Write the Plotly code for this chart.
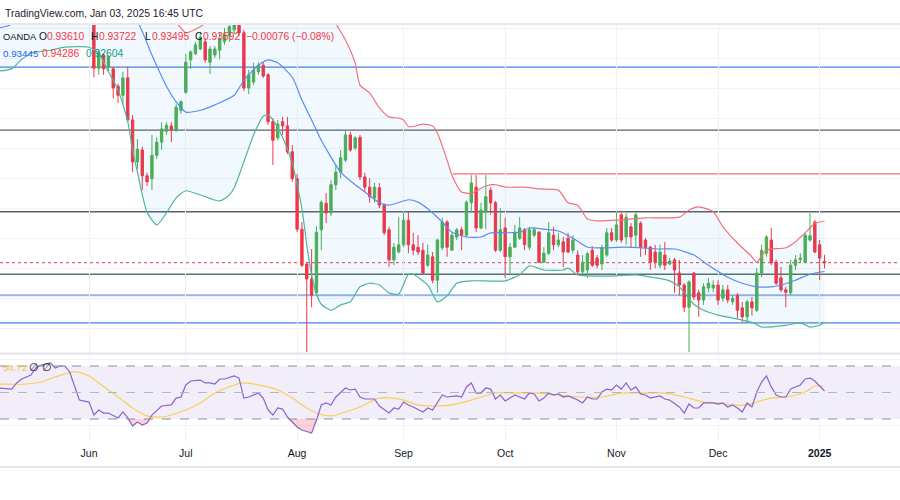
import plotly.graph_objects as go

# ---------------- data (bar index 0 = 3 Jun 2024, 152 = 3 Jan 2025) ----------------
bar = list(range(0, 153))
open_ = [
    0.9792, 0.9767, 0.9683, 0.9705, 0.9685, 0.9682, 0.9653, 0.9638, 0.9667, 0.9597,
    0.9527, 0.9547, 0.9504, 0.9499, 0.9538, 0.9560, 0.9578, 0.9587, 0.9580, 0.9613,
    0.9643, 0.9697, 0.9707, 0.9715, 0.9727, 0.9693, 0.9705, 0.9713, 0.9727, 0.9737,
    0.9747, 0.9760, 0.9742, 0.9650, 0.9660, 0.9677, 0.9688, 0.9672, 0.9594, 0.9567,
    0.9594, 0.9587, 0.9544, 0.9499, 0.9415, 0.9357, 0.9332, 0.9309, 0.9414, 0.9458,
    0.9442, 0.9489, 0.9510, 0.9530, 0.9572, 0.9550, 0.9568, 0.9502, 0.9485, 0.9467,
    0.9484, 0.9455, 0.9414, 0.9364, 0.9377, 0.9389, 0.9430, 0.9389, 0.9385, 0.9380,
    0.9355, 0.9369, 0.9330, 0.9384, 0.9427, 0.9380, 0.9402, 0.9414, 0.9405, 0.9459,
    0.9485, 0.9417, 0.9444, 0.9480, 0.9459, 0.9380, 0.9417, 0.9369, 0.9385, 0.9400,
    0.9414, 0.9385, 0.9405, 0.9410, 0.9360, 0.9375, 0.9405, 0.9389, 0.9394, 0.9400,
    0.9380, 0.9372, 0.9344, 0.9347, 0.9380, 0.9367, 0.9357, 0.9372, 0.9409, 0.9397,
    0.9439, 0.9402, 0.9419, 0.9405, 0.9425, 0.9397, 0.9385, 0.9377, 0.9355, 0.9372,
    0.9357, 0.9364, 0.9342, 0.9322, 0.9285, 0.9342, 0.9309, 0.9297, 0.9317, 0.9317,
    0.9322, 0.9300, 0.9314, 0.9294, 0.9305, 0.9284, 0.9269, 0.9294, 0.9280, 0.9342,
    0.9375, 0.9397, 0.9360, 0.9334, 0.9314, 0.9309, 0.9355, 0.9364, 0.9360, 0.9397,
    0.9427, 0.9389, 0.93610]
high = [
    0.9801, 0.9772, 0.9713, 0.9708, 0.9705, 0.9685, 0.9657, 0.9677, 0.9685, 0.9605,
    0.9565, 0.9552, 0.9509, 0.9572, 0.9568, 0.9593, 0.9593, 0.9593, 0.9623, 0.9630,
    0.9707, 0.9713, 0.9727, 0.9743, 0.9733, 0.9720, 0.9720, 0.9743, 0.9750, 0.9760,
    0.9767, 0.9773, 0.9747, 0.9680, 0.9692, 0.9693, 0.9693, 0.9675, 0.9600, 0.9597,
    0.9602, 0.9602, 0.9555, 0.9507, 0.9427, 0.9360, 0.9382, 0.9420, 0.9463, 0.9475,
    0.9497, 0.9522, 0.9547, 0.9580, 0.9577, 0.9570, 0.9572, 0.9509, 0.9500, 0.9492,
    0.9492, 0.9458, 0.9419, 0.9392, 0.9435, 0.9444, 0.9444, 0.9409, 0.9405, 0.9392,
    0.9389, 0.9377, 0.9399, 0.9434, 0.9430, 0.9409, 0.9417, 0.9419, 0.9463, 0.9505,
    0.9505, 0.9459, 0.9505, 0.9485, 0.9462, 0.9450, 0.9434, 0.9392, 0.9422, 0.9435,
    0.9417, 0.9419, 0.9419, 0.9412, 0.9385, 0.9427, 0.9419, 0.9409, 0.9402, 0.9409,
    0.9405, 0.9380, 0.9372, 0.9377, 0.9387, 0.9372, 0.9389, 0.9417, 0.9417, 0.9444,
    0.9442, 0.9442, 0.9425, 0.9444, 0.9428, 0.9400, 0.9387, 0.9389, 0.9389, 0.9394,
    0.9367, 0.9367, 0.9364, 0.9325, 0.9330, 0.9344, 0.9314, 0.9325, 0.9334, 0.9330,
    0.9330, 0.9322, 0.9322, 0.9305, 0.9309, 0.9294, 0.9297, 0.9302, 0.9350, 0.9389,
    0.9405, 0.9417, 0.9364, 0.9352, 0.9319, 0.9364, 0.9372, 0.9375, 0.9409, 0.9442,
    0.9430, 0.9397, 0.93722]
low = [
    0.9763, 0.9668, 0.9672, 0.9672, 0.9677, 0.9633, 0.9625, 0.9623, 0.9594, 0.9510,
    0.9515, 0.9480, 0.9487, 0.9480, 0.9532, 0.9547, 0.9572, 0.9560, 0.9577, 0.9607,
    0.9640, 0.9682, 0.9705, 0.9713, 0.9692, 0.9673, 0.9700, 0.9698, 0.9722, 0.9727,
    0.9740, 0.9737, 0.9645, 0.9640, 0.9655, 0.9672, 0.9667, 0.9589, 0.9522, 0.9563,
    0.9572, 0.9540, 0.9494, 0.9410, 0.9352, 0.9208, 0.9285, 0.9307, 0.9380, 0.9425,
    0.9437, 0.9480, 0.9500, 0.9527, 0.9544, 0.9547, 0.9497, 0.9477, 0.9459, 0.9459,
    0.9450, 0.9405, 0.9352, 0.9355, 0.9375, 0.9385, 0.9375, 0.9372, 0.9372, 0.9339,
    0.9352, 0.9325, 0.9309, 0.9380, 0.9369, 0.9379, 0.9397, 0.9380, 0.9402, 0.9442,
    0.9410, 0.9415, 0.9415, 0.9439, 0.9377, 0.9377, 0.9334, 0.9342, 0.9384, 0.9397,
    0.9380, 0.9380, 0.9402, 0.9359, 0.9359, 0.9372, 0.9380, 0.9385, 0.9352, 0.9375,
    0.9375, 0.9339, 0.9339, 0.9334, 0.9352, 0.9350, 0.9347, 0.9369, 0.9394, 0.9394,
    0.9392, 0.9389, 0.9384, 0.9384, 0.9369, 0.9372, 0.9347, 0.9350, 0.9350, 0.9347,
    0.9355, 0.9309, 0.9305, 0.9277, 0.9208, 0.9297, 0.9269, 0.9289, 0.9310, 0.9310,
    0.9289, 0.9294, 0.9292, 0.9289, 0.9267, 0.9260, 0.9259, 0.9271, 0.9277, 0.9335,
    0.9369, 0.9355, 0.9322, 0.9310, 0.9285, 0.9305, 0.9347, 0.9360, 0.9359, 0.9394,
    0.9375, 0.9330, 0.93495]
close = [
    0.9767, 0.9683, 0.9708, 0.9682, 0.9702, 0.9650, 0.9638, 0.9667, 0.9597, 0.9527,
    0.9548, 0.9504, 0.9494, 0.9538, 0.9560, 0.9582, 0.9588, 0.9580, 0.9618, 0.9627,
    0.9693, 0.9710, 0.9722, 0.9735, 0.9697, 0.9715, 0.9715, 0.9732, 0.9740, 0.9752,
    0.9757, 0.9742, 0.9650, 0.9672, 0.9680, 0.9688, 0.9670, 0.9594, 0.9563, 0.9590,
    0.9587, 0.9544, 0.9499, 0.9415, 0.9355, 0.9332, 0.9305, 0.9410, 0.9460, 0.9442,
    0.9489, 0.9510, 0.9534, 0.9572, 0.9547, 0.9567, 0.9502, 0.9485, 0.9469, 0.9485,
    0.9455, 0.9409, 0.9364, 0.9385, 0.9389, 0.9430, 0.9389, 0.9380, 0.9377, 0.9342,
    0.9372, 0.9330, 0.9397, 0.9427, 0.9385, 0.9405, 0.9414, 0.9405, 0.9460, 0.9492,
    0.9417, 0.9447, 0.9469, 0.9459, 0.9380, 0.9414, 0.9369, 0.9385, 0.9410, 0.9417,
    0.9389, 0.9414, 0.9414, 0.9360, 0.9375, 0.9409, 0.9389, 0.9397, 0.9377, 0.9377,
    0.9397, 0.9344, 0.9360, 0.9374, 0.9355, 0.9355, 0.9384, 0.9409, 0.9397, 0.9422,
    0.9397, 0.9435, 0.9402, 0.9439, 0.9385, 0.9384, 0.9360, 0.9360, 0.9377, 0.9355,
    0.9362, 0.9347, 0.9322, 0.9285, 0.9327, 0.9302, 0.9297, 0.9319, 0.9325, 0.9322,
    0.9297, 0.9314, 0.9297, 0.9300, 0.9280, 0.9269, 0.9294, 0.9284, 0.9342, 0.9380,
    0.9402, 0.9359, 0.9325, 0.9314, 0.9310, 0.9355, 0.9364, 0.9367, 0.9405, 0.9404,
    0.9377, 0.93668, 0.93592]

# Bollinger bands
basis_idx = [-19, -17, -15, -12, -5, 2, 7, 10, 13, 16, 18, 20, 23, 26, 30, 32, 35, 37, 39, 42,
             44, 46, 48, 50, 52, 55, 57, 60, 62, 66, 68, 70, 73, 75, 78, 81, 83, 86, 89, 91,
             94, 97, 100, 103, 106, 111, 118, 121, 125, 128, 132, 135, 138, 141, 143, 146, 149, 152]
basis = [0.9750, 0.9753, 0.9760, 0.9772, 0.9788, 0.9788, 0.9777, 0.9760, 0.9705, 0.9653,
         0.9627, 0.9610, 0.9613, 0.9622, 0.9638, 0.9663, 0.9688, 0.9697, 0.9692, 0.9668,
         0.9630, 0.9597, 0.9563, 0.9535, 0.9510, 0.9489, 0.9477, 0.9459, 0.9455, 0.9464,
         0.9460, 0.9449, 0.9427, 0.9410, 0.9402, 0.9402, 0.9409, 0.9409, 0.9410, 0.9417,
         0.9415, 0.9412, 0.9400, 0.9385, 0.9384, 0.9385, 0.9382, 0.9382, 0.9372, 0.9355,
         0.9335, 0.9325, 0.9319, 0.9319, 0.9322, 0.9330, 0.9340, 0.93445]
upper_idx = [-19, 0, 10, 15, 18, 19, 20, 22, 24, 26, 30, 35, 40, 45, 49, 51, 53, 55, 56, 58,
             60, 62, 64, 65, 66, 67, 69, 71, 72, 74, 75, 77, 79, 82, 84, 86, 90, 93, 97, 99,
             101, 103, 105, 109, 115, 122, 124, 126, 129, 131, 134, 137, 138, 140, 144, 146,
             149, 150, 152]
upper = [0.9897, 0.9897, 0.9863, 0.9797, 0.9760, 0.9750, 0.9742, 0.9748, 0.9758, 0.9780,
         0.9797, 0.9813, 0.9813, 0.9822, 0.9797, 0.9758, 0.9730, 0.9692, 0.9655, 0.9642,
         0.9617, 0.9602, 0.9600, 0.9597, 0.9586, 0.9586, 0.9590, 0.9587, 0.9575, 0.9530,
         0.9505, 0.9477, 0.9475, 0.9487, 0.9489, 0.9485, 0.9485, 0.9482, 0.9480, 0.9459,
         0.9455, 0.9432, 0.9429, 0.9430, 0.9434, 0.9435, 0.9447, 0.9452, 0.9444, 0.9419,
         0.9392, 0.9369, 0.9360, 0.9380, 0.9384, 0.9394, 0.9417, 0.9425, 0.94286]
lower_idx = [-19, -16, -14, -12, -8, -5, 0, 2, 4, 6, 8, 9, 10, 12, 14, 16, 18, 20, 23, 27,
             29, 30, 32, 34, 36, 37, 38, 40, 42, 44, 45, 46, 47, 48, 50, 52, 54, 56, 58, 60,
             62, 64, 66, 67, 70, 72, 74, 76, 79, 86, 89, 91, 94, 98, 99, 101, 108, 113, 117,
             120, 122, 125, 127, 130, 133, 137, 139, 144, 147, 149, 151, 152]
lower = [0.9678, 0.9682, 0.9697, 0.9708, 0.9713, 0.9718, 0.9718, 0.9708, 0.9677, 0.9647,
         0.9594, 0.9547, 0.9510, 0.9443, 0.9422, 0.9442, 0.9467, 0.9479, 0.9472, 0.9462,
         0.9472, 0.9484, 0.9527, 0.9572, 0.9603, 0.9605, 0.9597, 0.9568, 0.9525, 0.9449,
         0.9389, 0.9339, 0.9307, 0.9290, 0.9280, 0.9289, 0.9294, 0.9319, 0.9325, 0.9322,
         0.9309, 0.9307, 0.9340, 0.9340, 0.9322, 0.9294, 0.9304, 0.9325, 0.9329, 0.9329,
         0.9339, 0.9354, 0.9347, 0.9347, 0.9350, 0.9339, 0.9337, 0.9339, 0.9334, 0.9329,
         0.9319, 0.9290, 0.9280, 0.9272, 0.9267, 0.9260, 0.9252, 0.9255, 0.9259, 0.9252,
         0.9255, 0.92604]

# RSI (14) and its moving average
rsi_idx = [-19, -16, -15, -14, -12, -11, -10, -8, -7, -6, -5, -4, -2, 0, 1, 2, 3, 4, 6, 7,
           8, 9, 10, 11, 12, 13, 15, 17, 18, 19, 20, 21, 23, 24, 25, 26, 27, 28, 30, 31,
           32, 33, 35, 36, 37, 38, 39, 40, 41, 43, 44, 46, 47, 48, 49, 50, 51, 53, 54, 55,
           56, 57, 59, 60, 62, 63, 64, 65, 66, 67, 69, 70, 71, 73, 74, 76, 77, 78, 79, 80,
           81, 82, 83, 84, 85, 86, 87, 88, 90, 91, 92, 93, 94, 95, 96, 97, 98, 99, 101, 102,
           103, 104, 105, 106, 107, 108, 109, 110, 111, 112, 113, 114, 115, 116, 118, 119,
           120, 122, 123, 124, 125, 126, 127, 128, 129, 130, 131, 132, 133, 134, 135, 136,
           137, 138, 139, 140, 141, 142, 143, 144, 145, 146, 147, 148, 149, 150, 151, 152]
rsi = [53.4, 52.6, 57.0, 60.0, 63.2, 68.5, 70.5, 72.3, 68.5, 70.0, 70.0, 65.5, 44.3, 42.8, 33.0,
       36.8, 34.5, 34.5, 30.8, 35.3, 30.8, 24.7, 27.7, 25.5, 27.0, 33.0, 39.8, 40.6, 45.8, 46.6,
       55.7, 58.7, 59.4, 57.2, 57.2, 56.4, 60.2, 60.2, 62.5, 60.9, 45.8, 46.6, 49.6, 45.8, 36.8,
       33.0, 38.3, 37.5, 31.5, 24.0, 21.7, 19.4, 29.2, 40.6, 42.1, 40.6, 46.6, 53.4, 51.9, 52.6,
       46.6, 45.1, 45.1, 39.8, 34.5, 38.3, 37.5, 42.8, 40.6, 39.1, 35.3, 38.3, 36.8, 48.1, 46.6,
       47.4, 46.6, 54.2, 57.2, 49.6, 49.6, 53.4, 52.6, 45.1, 48.1, 43.6, 45.8, 48.1, 45.1, 49.6,
       48.9, 43.6, 45.8, 49.6, 48.1, 48.9, 46.6, 47.4, 44.3, 42.1, 46.6, 45.1, 45.1, 50.4, 52.6,
       51.9, 55.7, 52.6, 57.2, 51.9, 54.2, 48.9, 48.1, 45.8, 47.4, 45.1, 44.3, 39.1, 34.5, 41.3,
       38.3, 38.3, 42.1, 42.1, 42.1, 41.3, 42.1, 39.1, 40.6, 38.3, 35.3, 42.1, 39.1, 50.4, 57.9,
       62.5, 54.2, 48.1, 46.6, 46.6, 52.6, 54.2, 55.7, 60.2, 60.9, 58.7, 54.9, 51.1]
ma_idx = [-19, -13, -10, -7, -3, 0, 2, 6, 9, 12, 15, 17, 20, 23, 26, 30, 32, 35, 39, 42,
          45, 47, 50, 53, 56, 60, 63, 65, 68, 71, 75, 79, 84, 88, 93, 97, 101, 106, 110, 114,
          119, 123, 127, 130, 133, 136, 138, 141, 144, 148, 150, 152]
rsi_ma = [56.4, 56.4, 57.9, 61.7, 65.5, 62.5, 57.2, 46.6, 38.3, 32.3, 31.5, 33.0, 36.8, 42.1, 49.6,
          55.7, 57.2, 55.7, 51.9, 45.8, 38.3, 34.5, 32.3, 35.3, 39.1, 45.8, 45.8, 44.3, 40.6, 39.8,
          40.6, 44.3, 49.6, 49.6, 49.6, 48.1, 46.6, 46.6, 49.6, 49.6, 49.6, 46.6, 42.8, 42.1, 40.6,
          40.6, 42.8, 45.8, 46.6, 50.4, 54.9, 54.7]

# horizontal levels drawn on the chart
levels = [0.9685, 0.9580, 0.9444, 0.9340, 0.9305, 0.9259]
level_colors = ["#4a80e3", "#5d606b", "#5d606b", "#587368", "#93b3f3", "#4a80e3"]
level_widths = [1.2, 1.3, 1.3, 1.6, 2.2, 1.2]
ray_price = 0.9507
ray_start = 75.2

month_idx = [0, 20, 43, 65, 86, 109, 130, 151]
month_lbl = ["Jun", "Jul", "Aug", "Sep", "Oct", "Nov", "Dec", "<b>2025</b>"]
grid_prices = [0.925, 0.930, 0.935, 0.940, 0.945, 0.950, 0.955, 0.960, 0.965, 0.970, 0.975]

# ---------------- styling ----------------
GREEN = "#4caf50"
RED = "#f23645"
GRID = "#f1f2f6"
FONT = "Liberation Sans, Arial, sans-serif"
XR = [-18.4, 167.6]

fig = go.Figure()

# Bollinger bands
fig.add_trace(go.Scatter(x=lower_idx, y=lower, mode="lines", line=dict(color="#4fb59e", width=1.2, shape="spline", smoothing=0.6),
                         xaxis="x", yaxis="y", hoverinfo="skip"))
fig.add_trace(go.Scatter(x=upper_idx, y=upper, mode="lines", line=dict(color="#f2707b", width=1.2, shape="spline", smoothing=0.6),
                         fill="tonexty", fillcolor="rgba(33,150,243,0.06)", xaxis="x", yaxis="y", hoverinfo="skip"))
fig.add_trace(go.Scatter(x=basis_idx, y=basis, mode="lines", line=dict(color="#5a8cef", width=1.2, shape="spline", smoothing=0.6),
                         xaxis="x", yaxis="y", hoverinfo="skip"))

# candles
fig.add_trace(go.Candlestick(x=bar, open=open_, high=high, low=low, close=close,
                             increasing=dict(line=dict(color=GREEN, width=1), fillcolor=GREEN),
                             decreasing=dict(line=dict(color=RED, width=1), fillcolor=RED),
                             whiskerwidth=0, xaxis="x", yaxis="y", hoverinfo="skip"))

# RSI oversold / overbought fills
rsi_os = [min(v, 30) for v in rsi]
rsi_ob = [max(v, 70) for v in rsi]
fig.add_trace(go.Scatter(x=rsi_idx, y=[30] * len(rsi_idx), mode="lines", line=dict(width=0), xaxis="x2", yaxis="y2", hoverinfo="skip"))
fig.add_trace(go.Scatter(x=rsi_idx, y=rsi_os, mode="lines", line=dict(width=0), fill="tonexty",
                         fillcolor="rgba(242,54,69,0.22)", xaxis="x2", yaxis="y2", hoverinfo="skip"))
fig.add_trace(go.Scatter(x=rsi_idx, y=[70] * len(rsi_idx), mode="lines", line=dict(width=0), xaxis="x2", yaxis="y2", hoverinfo="skip"))
fig.add_trace(go.Scatter(x=rsi_idx, y=rsi_ob, mode="lines", line=dict(width=0), fill="tonexty",
                         fillcolor="rgba(76,175,80,0.18)", xaxis="x2", yaxis="y2", hoverinfo="skip"))
fig.add_trace(go.Scatter(x=ma_idx, y=rsi_ma, mode="lines", line=dict(color="#f7cf52", width=1.2, shape="spline", smoothing=0.8),
                         xaxis="x2", yaxis="y2", hoverinfo="skip"))
fig.add_trace(go.Scatter(x=rsi_idx, y=rsi, mode="lines", line=dict(color="#8a63cf", width=1.2),
                         xaxis="x2", yaxis="y2", hoverinfo="skip"))

shapes = []
for p, c, w in zip(levels, level_colors, level_widths):
    shapes.append(dict(type="line", xref="paper", x0=0, x1=1, yref="y", y0=p, y1=p,
                       line=dict(color=c, width=w), layer="below"))
shapes.append(dict(type="line", xref="x", x0=ray_start, x1=XR[1] + 2, yref="y", y0=ray_price, y1=ray_price,
                   line=dict(color="#f5697a", width=1.2), layer="below"))
shapes.append(dict(type="line", xref="paper", x0=0, x1=1, yref="y", y0=close[-1], y1=close[-1],
                   line=dict(color=RED, width=1, dash="dot"), layer="below"))
# RSI band
shapes.append(dict(type="rect", xref="paper", x0=0, x1=1, yref="y2", y0=30, y1=70,
                   fillcolor="rgba(126,87,194,0.10)", line=dict(width=0), layer="below"))
for lv, col in [(70, "#8a8d96"), (50, "#b4b6bd"), (30, "#8a8d96")]:
    shapes.append(dict(type="line", xref="paper", x0=0, x1=1, yref="y2", y0=lv, y1=lv,
                       line=dict(color=col, width=1, dash="dash"), layer="above"))
# pane separators
for yp, col, w in [(1 - 24 / 500, "#e6e8ee", 2), (1 - 353.5 / 500, "#e0e3eb", 2), (1 - 467 / 500, "#e6e8ee", 2)]:
    shapes.append(dict(type="line", xref="paper", x0=0, x1=1, yref="paper", y0=yp, y1=yp,
                       line=dict(color=col, width=w)))

ann = []
def txt(t, px, py, color, size=10.3, anchor="left"):
    ann.append(dict(text=t, x=px / 900, y=1 - py / 500, xref="paper", yref="paper",
                    xanchor=anchor, yanchor="middle", showarrow=False,
                    font=dict(family=FONT, size=size, color=color)))

txt("TradingView.com, Jan 03, 2025 16:45 UTC", 3, 13, "#1e222d", 10.4)
DARK = "#131722"
txt("OANDA", 1, 37, DARK, 9.4)
txt("O", 37, 37, DARK)
txt("0.93610", 45, 37, RED)
txt("H", 89, 37, DARK)
txt("0.93722", 97, 37, RED)
txt("L", 143, 37, DARK)
txt("0.93495", 150, 37, RED)
txt("C", 193, 37, DARK)
txt("0.93592", 201, 37, RED)
txt("\u22120.00076 (\u22120.08%)", 244, 37, RED)
txt("0.93445", 1, 54, "#2962ff", 9.8)
txt("0.94286", 40, 54, RED)
txt("0.92604", 84, 54, "#089981")
txt("54.72", 1, 367, "#f7c548", 9.6)
txt("\u2205", 27, 367, DARK, 11)
txt("\u2205", 40, 367, DARK, 11)

fig.update_layout(
    width=900, height=500, margin=dict(l=0, r=0, t=0, b=0),
    paper_bgcolor="white", plot_bgcolor="white", showlegend=False,
    shapes=shapes, annotations=ann,
    xaxis=dict(domain=[0, 1], range=XR, anchor="y", tickvals=month_idx, showticklabels=False,
               showgrid=True, gridcolor=GRID, zeroline=False, ticks="", showline=False,
               rangeslider=dict(visible=False), fixedrange=True),
    yaxis=dict(domain=[0.296, 0.95], range=[0.92105, 0.9755], tickvals=grid_prices, showticklabels=False,
               showgrid=True, gridcolor=GRID, zeroline=False, ticks="", fixedrange=True),
    xaxis2=dict(domain=[0, 1], range=XR, anchor="y2", tickvals=month_idx, ticktext=month_lbl,
                showgrid=True, gridcolor=GRID, zeroline=False, ticks="", showline=False,
                tickfont=dict(family=FONT, size=10.5, color=DARK), ticklabelstandoff=3, fixedrange=True),
    yaxis2=dict(domain=[0.116, 0.29], range=[12.64, 78.3], tickvals=[25, 50, 75], showticklabels=False,
                showgrid=True, gridcolor=GRID, zeroline=False, ticks="", fixedrange=True),
)

fig.write_html("out.html", config={"displayModeBar": False, "staticPlot": True},
               post_script="document.body.style.margin='0';document.body.style.overflow='hidden';")
